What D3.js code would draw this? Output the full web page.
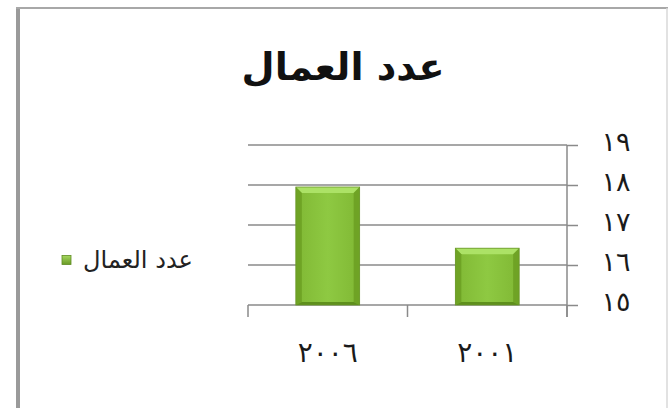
<!DOCTYPE html>
<html><head><meta charset="utf-8">
<script src="https://cdn.jsdelivr.net/npm/d3@7"></script>
<style>
html,body{margin:0;padding:0;background:#fff;}
svg{display:block;}
</style></head>
<body>
<svg id="chart" width="669" height="408"></svg>
<script>
// ---- data ----
const title = "عدد العمال";
const seriesName = "عدد العمال";
const categories = ["٢٠٠٦", "٢٠٠١"];
const values = [17.95, 16.42];
const yTicks = [15, 16, 17, 18, 19];
const arabicNumerals = ["٠","١","٢","٣","٤","٥","٦","٧","٨","٩"];

const svg = d3.select("#chart");
const W = 669, H = 408;
const font = "'DejaVu Sans', sans-serif";

// frame
svg.append("rect").attr("x",0).attr("y",0).attr("width",W).attr("height",H).attr("fill","#fff");
svg.append("line").attr("x1",18).attr("x2",18).attr("y1",7).attr("y2",H).attr("stroke","#9a9a9a").attr("stroke-width",4);
svg.append("line").attr("x1",16).attr("x2",668).attr("y1",8).attr("y2",8).attr("stroke","#a8a8a8").attr("stroke-width",2);
svg.append("line").attr("x1",667).attr("x2",667).attr("y1",8).attr("y2",H).attr("stroke","#d8d8d8").attr("stroke-width",1.5);

// scales
const plot = {left:248, right:567, top:145, bottom:305};
const x = d3.scaleBand().domain(categories).range([plot.left, plot.right]).paddingInner(0.6).paddingOuter(0.3);
const y = d3.scaleLinear().domain([yTicks[0], yTicks[yTicks.length-1]]).range([plot.bottom, plot.top]);
const locale = d3.formatLocale({decimal:".", thousands:",", grouping:[3], currency:["",""], numerals: arabicNumerals});
const fmt = locale.format("d");

// defs
const defs = svg.append("defs");
const g1 = defs.append("linearGradient").attr("id","barGrad").attr("x1","0").attr("x2","1").attr("y1","0").attr("y2","0");
g1.append("stop").attr("offset","0%").attr("stop-color","#80b834");
g1.append("stop").attr("offset","50%").attr("stop-color","#8ec942");
g1.append("stop").attr("offset","100%").attr("stop-color","#80b834");
const g2 = defs.append("linearGradient").attr("id","legGrad").attr("x1","0").attr("x2","0").attr("y1","0").attr("y2","1");
g2.append("stop").attr("offset","0%").attr("stop-color","#a5d860");
g2.append("stop").attr("offset","100%").attr("stop-color","#6a9a26");

// grid + right axis
const gridStroke = "#8a8a8a";
const axis = d3.axisRight(y).tickValues(yTicks).tickSize(11).tickPadding(0).tickFormat(fmt);
const ag = svg.append("g").attr("transform",`translate(${plot.right},0)`).call(axis);
ag.select(".domain").remove();
ag.selectAll(".tick line").attr("stroke",gridStroke).attr("stroke-width",1.5);
ag.selectAll(".tick text").attr("x",49).attr("y",4).attr("text-anchor","middle")
  .attr("font-family",font).attr("font-size",27).attr("letter-spacing","-3px").attr("fill","#1a1a1a")
  .attr("dy","0.05em");
svg.append("line").attr("x1",plot.right).attr("x2",plot.right).attr("y1",plot.top).attr("y2",plot.bottom+12)
  .attr("stroke",gridStroke).attr("stroke-width",1.5);

svg.append("g").selectAll("line").data(yTicks).join("line")
  .attr("x1",plot.left).attr("x2",plot.right).attr("y1",d=>y(d)).attr("y2",d=>y(d))
  .attr("stroke",gridStroke).attr("stroke-width",1.5);

// category boundary ticks
const bounds = d3.range(categories.length+1).map(i => plot.left + i*x.step());
svg.append("g").selectAll("line").data(bounds).join("line")
  .attr("x1",d=>Math.min(d,plot.right)).attr("x2",d=>Math.min(d,plot.right))
  .attr("y1",plot.bottom).attr("y2",plot.bottom+12)
  .attr("stroke",gridStroke).attr("stroke-width",1.5);

// bars with bevel
const bev = 6;
const bars = svg.append("g").selectAll("g").data(categories.map((c,i)=>({c, v:values[i]}))).join("g");
bars.append("rect")
  .attr("x",d=>x(d.c)).attr("y",d=>y(d.v)).attr("width",x.bandwidth()).attr("height",d=>y(yTicks[0])-y(d.v))
  .attr("fill","url(#barGrad)");
bars.each(function(d){
  const g = d3.select(this);
  const x0 = x(d.c), x1 = x0 + x.bandwidth(), y0 = y(d.v), y1 = y(yTicks[0]);
  const poly = (pts, fill, op) => g.append("polygon").attr("points", pts.map(p=>p.join(",")).join(" ")).attr("fill",fill).attr("opacity",op);
  poly([[x0,y0],[x1,y0],[x1-bev,y0+bev],[x0+bev,y0+bev]], "#ace266", 1);
  poly([[x0,y0],[x0+bev,y0+bev],[x0+bev,y1-3],[x0,y1]], "#6a9d22", 0.8);
  poly([[x1,y0],[x1-bev,y0+bev],[x1-bev,y1-3],[x1,y1]], "#6a9d22", 0.8);
  poly([[x0,y1],[x0+bev,y1-3],[x1-bev,y1-3],[x1,y1]], "#5a8a1a", 0.9);
  g.append("rect").attr("x",x0).attr("y",y0).attr("width",x1-x0).attr("height",y1-y0)
    .attr("fill","none").attr("stroke","#6a9628").attr("stroke-width",0.8);
});

// x labels
svg.append("g").selectAll("text").data(categories).join("text")
  .attr("x",d=>x(d)+x.bandwidth()/2).attr("y",362)
  .attr("text-anchor","middle").attr("font-family",font).attr("font-size",28)
  .attr("letter-spacing","-1px").attr("fill","#1a1a1a").text(d=>d);

// title
const t = svg.append("text").attr("x",343).attr("y",80).attr("text-anchor","middle")
  .attr("font-family",font).attr("font-weight","bold").attr("font-size",40).attr("fill","#111")
  .attr("direction","rtl").text(title);
{
  const w = t.node().getComputedTextLength();
  t.attr("font-size", 40*203/w);
}

// legend
svg.append("rect").attr("x",62).attr("y",255.5).attr("width",9).attr("height",9)
  .attr("fill","url(#legGrad)").attr("stroke","#5f8c22").attr("stroke-width",0.8);
const lt = svg.append("text").attr("x",138).attr("y",260).attr("dy","0.35em").attr("text-anchor","middle")
  .attr("font-family",font).attr("font-size",15).attr("fill","#222").text(seriesName);
{
  const w = lt.node().getComputedTextLength();
  lt.attr("font-size", 15*110/w);
}
</script>
</body></html>
